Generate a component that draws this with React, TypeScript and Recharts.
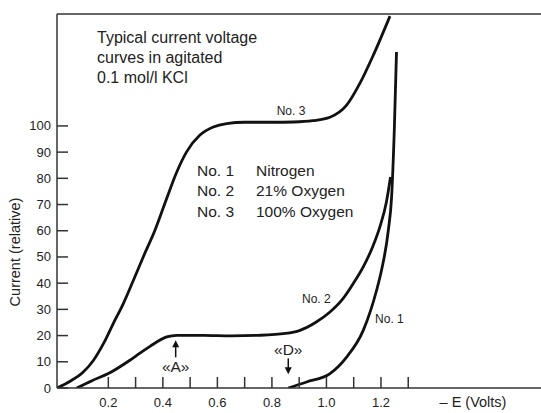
import { LineChart, Line, XAxis, YAxis, ReferenceLine, ReferenceDot } from "recharts";

// curve No. 3 - 100% oxygen
const volts3 = [0.012, 0.06, 0.108, 0.145, 0.182, 0.218, 0.255, 0.292, 0.328, 0.371, 0.414, 0.451, 0.487, 0.536, 0.585, 0.634, 0.7, 0.8, 0.88, 0.95, 1.013, 1.074, 1.123, 1.172, 1.233];
const current3 = [0, 2.6, 6.1, 10.5, 16.9, 24.6, 32.2, 41.1, 50, 60.2, 72.3, 82.4, 90.1, 96.5, 99.6, 100.9, 101.4, 101.4, 101.5, 102, 103.3, 107.9, 116.3, 127, 141.9];

// curve No. 2 - 21% oxygen
const volts2 = [0.084, 0.14, 0.2, 0.279, 0.316, 0.353, 0.414, 0.451, 0.55, 0.65, 0.75, 0.85, 0.903, 0.96, 1.013, 1.06, 1.098, 1.135, 1.17, 1.196, 1.22, 1.235];
const current2 = [0, 2.8, 5.5, 10.6, 13.3, 15.9, 19.5, 20.1, 20.1, 19.9, 20.1, 20.8, 22, 25, 29, 34, 39.8, 46.2, 54, 61.5, 71, 80.5];

// curve No. 1 - nitrogen
const volts1 = [0.86, 0.927, 1.013, 1.074, 1.135, 1.184, 1.202, 1.227, 1.239, 1.249, 1.257];
const current1 = [0, 2.3, 5.5, 11.8, 22, 37.3, 44.9, 60.2, 72.9, 98.7, 128.2];

const xTicks = [0.2, 0.3, 0.4, 0.5, 0.6, 0.7, 0.8, 0.9, 1.0, 1.1, 1.2, 1.3];
const xLabeled = ["0.2", "0.4", "0.6", "0.8", "1.0", "1.2"];
const yTicks = [0, 10, 20, 30, 40, 50, 60, 70, 80, 90, 100];

const X_MIN = 0.0117;
const X_MAX = 1.787;
const Y_MAX = 142.7;

const FONT = "'Liberation Sans', Arial, sans-serif";
const INK = "#222";
const AXIS = "#333";

const toPoints = (xs: number[], ys: number[]) => xs.map((x, i) => ({ x, y: ys[i] }));

function XTick({ x, y, payload }: any) {
  const label = payload.value.toFixed(1);
  return (
    <g>
      <line x1={x} x2={x} y1={y} y2={y - 11} stroke={AXIS} strokeWidth={1.5} />
      {xLabeled.includes(label) && (
        <text x={x} y={y + 18.5} textAnchor="middle" fontSize={13} fontFamily={FONT} fill={INK}>
          {label}
        </text>
      )}
    </g>
  );
}

function YTick({ x, y, payload }: any) {
  return (
    <g>
      <line x1={x} x2={x + 11} y1={y} y2={y} stroke={AXIS} strokeWidth={1.5} />
      <text x={x - 6} y={y + 4.5} textAnchor="end" fontSize={13} fontFamily={FONT} fill={INK}>
        {payload.value}
      </text>
    </g>
  );
}

function ArrowUp({ cx, cy, label }: any) {
  return (
    <g>
      <line x1={cx} x2={cx} y1={cy + 4} y2={cy + 17} stroke="#111" strokeWidth={1.5} />
      <path d={`M${cx},${cy} L${cx - 3.5},${cy + 7} L${cx + 3.5},${cy + 7} Z`} fill="#111" />
      <text x={cx} y={cy + 32} textAnchor="middle" fontSize={15.5} fontFamily={FONT} fill={INK}>
        {label}
      </text>
    </g>
  );
}

function ArrowDown({ cx, cy, label }: any) {
  return (
    <g>
      <line x1={cx} x2={cx} y1={cy - 4} y2={cy - 16} stroke="#111" strokeWidth={1.5} />
      <path d={`M${cx},${cy} L${cx - 3.5},${cy - 7} L${cx + 3.5},${cy - 7} Z`} fill="#111" />
      <text x={cx} y={cy - 19} textAnchor="middle" fontSize={15.5} fontFamily={FONT} fill={INK}>
        {label}
      </text>
    </g>
  );
}

function CurveLabel({ cx, cy, text }: any) {
  return (
    <text x={cx} y={cy} textAnchor="middle" fontSize={12} fontFamily={FONT} fill={INK}>
      {text}
    </text>
  );
}

export default function App() {
  return (
    <div style={{ position: "absolute", left: 0, top: 0, width: 541, height: 413, background: "#fff" }}>
      <LineChart width={541} height={413} margin={{ top: 14, right: 0, left: 0, bottom: 0 }}>
        <XAxis
          type="number"
          dataKey="x"
          domain={[X_MIN, X_MAX]}
          ticks={xTicks}
          height={25}
          tickSize={0}
          tickMargin={0}
          tick={<XTick />}
          axisLine={{ stroke: AXIS, strokeWidth: 1.5 }}
          tickLine={false}
          allowDataOverflow
        />
        <YAxis
          type="number"
          dataKey="y"
          domain={[0, Y_MAX]}
          ticks={yTicks}
          width={57}
          tickSize={0}
          tickMargin={0}
          tick={<YTick />}
          axisLine={{ stroke: AXIS, strokeWidth: 1.5 }}
          tickLine={false}
          allowDataOverflow
        />
        <ReferenceLine y={Y_MAX} stroke={AXIS} strokeWidth={1.5} ifOverflow="visible" />

        <Line data={toPoints(volts3, current3)} dataKey="y" type="monotone" stroke="#111" strokeWidth={2.8} dot={false} isAnimationActive={false} />
        <Line data={toPoints(volts2, current2)} dataKey="y" type="monotone" stroke="#111" strokeWidth={2.8} dot={false} isAnimationActive={false} />
        <Line data={toPoints(volts1, current1)} dataKey="y" type="monotone" stroke="#111" strokeWidth={2.8} dot={false} isAnimationActive={false} />

        <ReferenceDot x={0.87} y={104.1} ifOverflow="visible" shape={(p: any) => <CurveLabel {...p} text="No. 3" />} />
        <ReferenceDot x={0.963} y={32.4} ifOverflow="visible" shape={(p: any) => <CurveLabel {...p} text="No. 2" />} />
        <ReferenceDot x={1.231} y={24.8} ifOverflow="visible" shape={(p: any) => <CurveLabel {...p} text="No. 1" />} />
        <ReferenceDot x={0.447} y={18.2} ifOverflow="visible" shape={(p: any) => <ArrowUp {...p} label="«A»" />} />
        <ReferenceDot x={0.86} y={5.2} ifOverflow="visible" shape={(p: any) => <ArrowDown {...p} label="«D»" />} />
      </LineChart>

      <svg width={541} height={413} style={{ position: "absolute", left: 0, top: 0, pointerEvents: "none" }}>
        <g fontFamily={FONT} fill={INK} fontSize={16}>
          <text x={97} y={43}>Typical current voltage</text>
          <text x={97} y={63}>curves in agitated</text>
          <text x={97} y={83}>0.1 mol/l KCl</text>
        </g>
        <g fontFamily={FONT} fill={INK} fontSize={15.5}>
          <text x={197} y={175.5}>No. 1</text>
          <text x={256} y={175.5}>Nitrogen</text>
          <text x={197} y={196}>No. 2</text>
          <text x={256} y={196}>21% Oxygen</text>
          <text x={197} y={216.5}>No. 3</text>
          <text x={256} y={216.5}>100% Oxygen</text>
        </g>
        <text x={473} y={407} textAnchor="middle" fontFamily={FONT} fontSize={14.5} fill={INK}>
          – E (Volts)
        </text>
        <text
          transform="translate(20, 252) rotate(-90)"
          textAnchor="middle"
          fontFamily={FONT}
          fontSize={14.5}
          fill={INK}
        >
          Current (relative)
        </text>
      </svg>
    </div>
  );
}
